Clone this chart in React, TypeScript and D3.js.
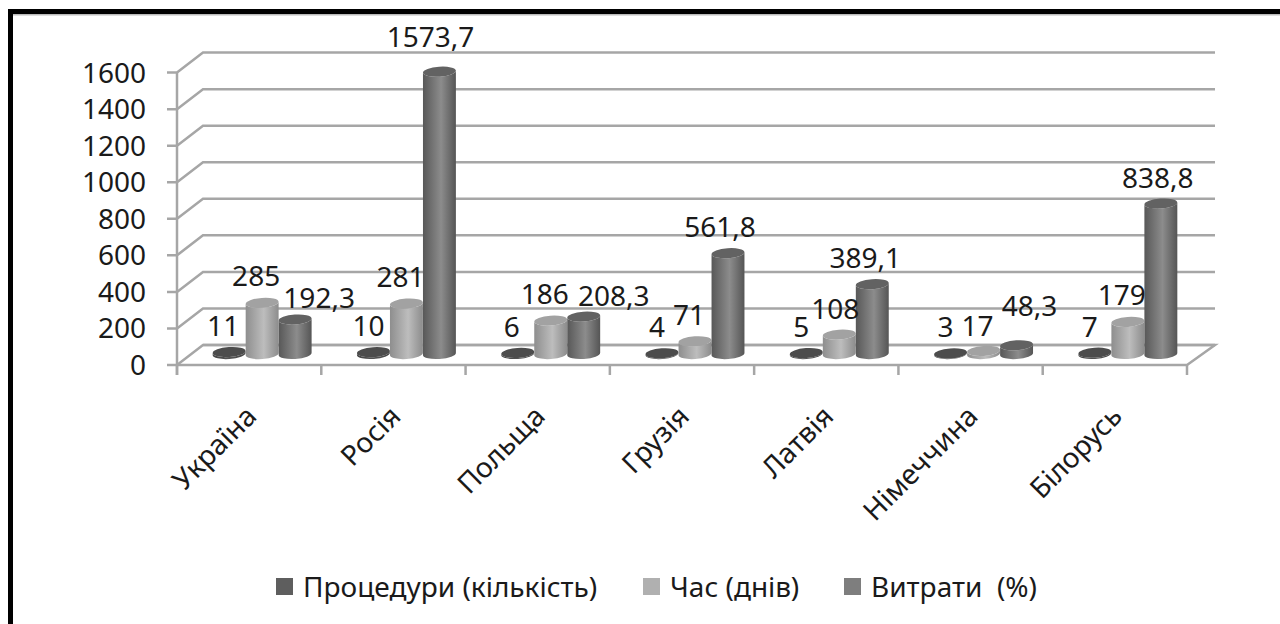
import React from "react";
import * as d3 from "d3";

const categories = ["Україна", "Росія", "Польща", "Грузія", "Латвія", "Німеччина", "Білорусь"];
const seriesNames = ["Процедури (кількість)", "Час (днів)", "Витрати  (%)"];
const procedures = [11, 10, 6, 4, 5, 3, 7];
const days = [285, 281, 186, 71, 108, 17, 179];
const costs = [192.3, 1573.7, 208.3, 561.8, 389.1, 48.3, 838.8];
const costLabels = ["192,3", "1573,7", "208,3", "561,8", "389,1", "48,3", "838,8"];
const yTicks = [0, 200, 400, 600, 800, 1000, 1200, 1400, 1600];

// label placement relative to the top of each bar [dx, dy]
const labelNudge: [number, number][][] = [
  [[-6, -16], [-5, -16], [-6, -16], [-5, -16], [-5, -16], [-5, -16], [-5, -16]],
  [[-6, -17], [-6, -17], [-6, -17], [-6, -16], [-4, -16], [-6, -15], [-6, -17]],
  [[24, -12], [-9, -25], [30, -11], [-8, -16], [-7, -16], [13, -29], [-3, -16]],
];

const FONT = "'Noto Sans', sans-serif";
const GRID = "#a6a6a6";
const FS = 28;
const X0 = 177, X1 = 1187, Y0 = 365, Y1 = 72.6, DX = 26, DY = -20;
const RX = 16.5, RY = 5, TILT = 4, BASE_Y = 354;

const x = d3.scaleBand<string>().domain(categories).range([X0, X1]);
const y = d3.scaleLinear().domain([0, 1600]).range([Y0, Y1]);
const h = d3.scaleLinear().domain([0, 1600]).range([BASE_Y, BASE_Y - 287]);
const inner = d3.scaleBand<string>().domain(seriesNames).range([0, 99]);

const gradients = [
  { id: "g0", stops: ["#454545", "#555555", "#454545"], top: "#4c4c4c", swatch: "#5e5e5e" },
  { id: "g1", stops: ["#8e8e8e", "#bdbdbd", "#8c8c8c"], top: "#a2a2a2", swatch: "#b0b0b0" },
  { id: "g2", stops: ["#585858", "#8c8c8c", "#555555"], top: "#626262", swatch: "#7e7e7e" },
];

function Cylinder({ cx, top, s }: { cx: number; top: number; s: number }) {
  const a = (TILT * Math.PI) / 180;
  const ex = RX * Math.cos(a), ey = RX * Math.sin(a);
  const d =
    `M${cx - ex},${top + ey} L${cx - ex},${BASE_Y + ey} ` +
    `A${RX},${RY} ${-TILT} 0 0 ${cx + ex},${BASE_Y - ey} L${cx + ex},${top - ey} ` +
    `A${RX},${RY} ${-TILT} 0 1 ${cx - ex},${top + ey} Z`;
  return (
    <g>
      <path d={d} fill={`url(#${gradients[s].id})`} />
      <ellipse cx={cx} cy={top} rx={RX} ry={RY} fill={gradients[s].top} transform={`rotate(${-TILT} ${cx} ${top})`} />
    </g>
  );
}

const legendItems = [
  { sx: 276, tx: 303 },
  { sx: 643, tx: 670 },
  { sx: 844, tx: 871 },
];

export default function App() {
  const series = [procedures, days, costs];
  const labels = [procedures.map(String), days.map(String), costLabels];
  const bw = x.bandwidth();
  return (
    <svg width={1280} height={624} style={{ position: "absolute", left: 0, top: 0, background: "#fff" }} fontFamily={FONT}>
      <defs>
        {gradients.map((g) => (
          <linearGradient key={g.id} id={g.id} x1="0" x2="1" y1="0" y2="0">
            <stop offset="0" stopColor={g.stops[0]} />
            <stop offset="0.55" stopColor={g.stops[1]} />
            <stop offset="1" stopColor={g.stops[2]} />
          </linearGradient>
        ))}
      </defs>

      {/* frame */}
      <rect x={8} y={14} width={1272} height={1.5} fill="#bbb" />
      <rect x={8} y={9} width={1272} height={5} fill="#000" />
      <rect x={8} y={9} width={5} height={615} fill="#000" />

      {/* floor */}
      <path d={`M${X0},${Y0} L${X1},${Y0} L${X1 + DX + 2},${Y0 + DY} L${X0 + DX},${Y0 + DY}`} fill="none" stroke={GRID} strokeWidth={2.5} />

      {/* gridlines */}
      {yTicks.map((t) => (
        <g key={t} stroke={GRID} strokeWidth={2.5} fill="none">
          <path d={`M${X0 - 10},${y(t)} L${X0},${y(t)} L${X0 + DX},${y(t) + DY} L${X1 + DX + 2},${y(t) + DY}`} />
        </g>
      ))}
      <line x1={X0} x2={X0} y1={Y1} y2={Y0 + 10} stroke={GRID} strokeWidth={2.5} />
      {d3.range(categories.length + 1).map((i) => {
        const px = X0 + i * bw;
        return <line key={i} x1={px} x2={px} y1={Y0} y2={Y0 + 10} stroke={GRID} strokeWidth={2.5} />;
      })}

      {yTicks.map((t) => (
        <text key={t} x={146} y={y(t) + 10} textAnchor="end" fontSize={FS} fill="#1a1a1a">{t}</text>
      ))}

      {/* bars */}
      {categories.map((c) =>
        seriesNames.map((name, s) => {
          const i = categories.indexOf(c);
          const cx = x(c)! + bw / 2 + DX / 2 - 49.5 + inner(name)! + inner.bandwidth() / 2;
          return <Cylinder key={c + s} cx={cx} top={h(series[s][i])} s={s} />;
        })
      )}

      {/* value labels */}
      {categories.map((c, i) =>
        seriesNames.map((name, s) => {
          const cx = x(c)! + bw / 2 + DX / 2 - 49.5 + inner(name)! + inner.bandwidth() / 2;
          const [dx, dy] = labelNudge[s][i];
          return (
            <text key={c + s} x={cx + dx} y={h(series[s][i]) + dy} textAnchor="middle" fontSize={FS} fill="#1a1a1a">
              {labels[s][i]}
            </text>
          );
        })
      )}

      {/* category labels */}
      {categories.map((c) => {
        const px = x(c)! + bw / 2 + 9;
        return (
          <text key={c} transform={`translate(${px},${Y0 + 53}) rotate(-45)`} textAnchor="end" fontSize={FS} fill="#1a1a1a">
            {c}
          </text>
        );
      })}

      {/* legend */}
      {seriesNames.map((name, s) => (
        <g key={name}>
          <rect x={legendItems[s].sx} y={578} width={17} height={17} fill={gradients[s].swatch} />
          <text x={legendItems[s].tx} y={597} fontSize={FS} fill="#1a1a1a" style={{ whiteSpace: "pre" }}>{name}</text>
        </g>
      ))}
    </svg>
  );
}
